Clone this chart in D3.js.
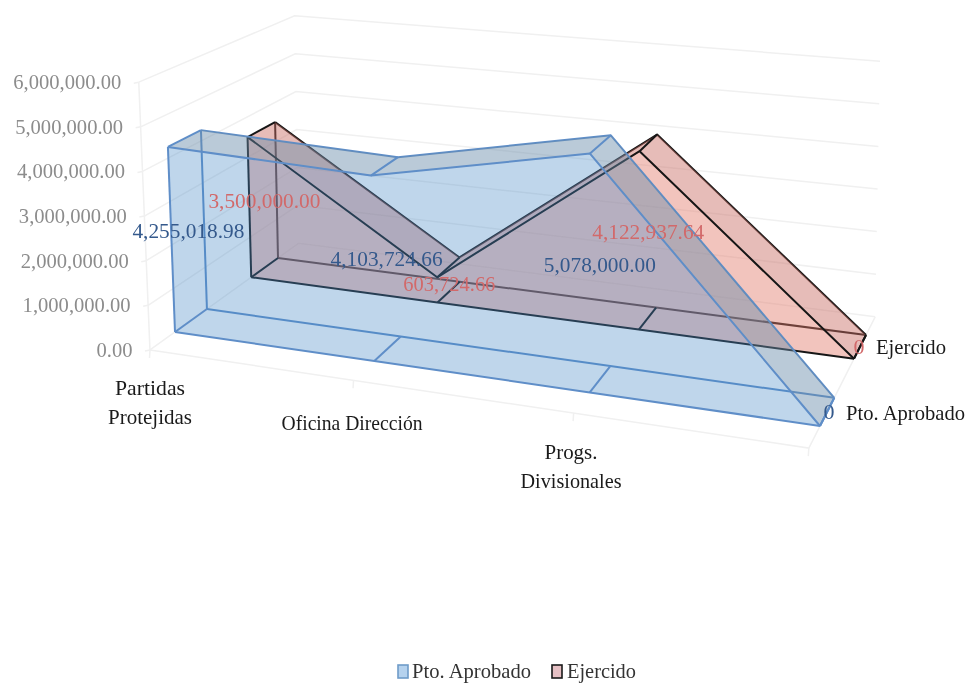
<!DOCTYPE html>
<html><head><meta charset="utf-8">
<script src="https://cdnjs.cloudflare.com/ajax/libs/d3/7.8.5/d3.min.js"></script>
<style>html,body{margin:0;padding:0;background:#fff}svg{display:block;filter:blur(.5px)}text{font-family:"Liberation Serif",serif}</style>
</head><body><svg id="c" width="967" height="684"></svg>
<script>
// ---- data ----
const categories = [["Partidas","Protejidas"],["Oficina Dirección"],["Progs.","Divisionales"],[""]];
const seriesNames = ["Pto. Aprobado","Ejercido"];
const ptoAprobado = [4255018.98,4103724.66,5078000.00,0];
const ejercido = [3500000.00,603724.66,4122937.64,0];
const valueTicks = [0,1000000,2000000,3000000,4000000,5000000,6000000];
const fmt = d3.format(",.2f");

// ---- layout: a box in perspective, addressed by category, value and depth ----
const uScale = d3.scaleLinear().domain([0,1,2,3]).range([0,.309,.643,1]);
const vScale = d3.scaleLinear().domain([0,6000000]).range([0,1]);
const zScale = d3.scaleLinear().domain([0,1,2,3]).range([0,.31,.74,1]);
const Z_FRONT=-.243, Z_BACK=1.2;
const box = {b00:[175,332],b10:[820,426],b01:[278,258],b11:[866,335],
             t00:[165,71],t10:[826,132],t01:[273,25],t11:[871,73]};
const lerp=(a,b,k)=>[a[0]+(b[0]-a[0])*k,a[1]+(b[1]-a[1])*k];
function project(u,w,z){
  const bot=lerp(lerp(box.b00,box.b10,u),lerp(box.b01,box.b11,u),z);
  const top=lerp(lerp(box.t00,box.t10,u),lerp(box.t01,box.t11,u),z);
  return lerp(bot,top,w);
}
const P=(t,v,d)=>project(uScale(t),vScale(v),zScale(d));
const line=d3.line();
const svg=d3.select("#c");

// ---- walls and floor ----
const grid=svg.append("g").attr("fill","none").attr("stroke","#f0f0f0").attr("stroke-width",1.5);
valueTicks.forEach(v=>{
  const w=vScale(v);
  grid.append("path").attr("d",line([project(0,w,Z_FRONT),project(0,w,Z_BACK),project(1,w,Z_BACK)]));
});
grid.append("path").attr("d",line([project(0,0,Z_FRONT),project(0,1,Z_FRONT)]));
grid.append("path").attr("d",line([project(0,0,Z_FRONT),project(1,0,Z_FRONT),project(1,0,Z_BACK)]));
[0,1,2,3].forEach(t=>{
  const p=project(uScale(t),0,Z_FRONT);
  grid.append("path").attr("d",line([p,[p[0]-.5,p[1]+8]]));
});
valueTicks.forEach(v=>{
  const p=project(0,vScale(v),Z_FRONT);
  grid.append("path").attr("d",line([p,[p[0]-5,p[1]+1]]));
});

// ---- 3D area series ----
function area3d(vals,df,db,o){
  const g=svg.append("g").attr("stroke-linejoin","round");
  const ts=d3.range(vals.length);
  const F=ts.map(t=>P(t,vals[t],df)), FB=ts.map(t=>P(t,0,df));
  const B=ts.map(t=>P(t,vals[t],db)), BB=ts.map(t=>P(t,0,db));
  const edge=(pts)=>g.append("path").attr("d",line(pts)).attr("fill","none").attr("stroke",o.stroke).attr("stroke-width",o.sw);
  const face=(pts,fill)=>g.append("path").attr("d",line(pts)+"Z").attr("fill",fill).attr("stroke","none");
  edge(B); edge(BB); edge([B[0],BB[0]]);
  for(let i=0;i<ts.length-1;i++) face([F[i],F[i+1],B[i+1],B[i]],o.strip);
  face(F.concat(FB.slice().reverse()),o.front);
  edge(F); edge(FB);
  edge([F[0],FB[0]]);
  ts.forEach(i=>{ edge([F[i],B[i]]); edge([FB[i],BB[i]]); });
}
area3d(ejercido,2,3,{stroke:"#161616",sw:2,strip:"rgba(200,110,100,.46)",front:"rgba(226,120,105,.44)"});
area3d(ptoAprobado,0,1,{stroke:"#5f8ec8",sw:2,strip:"rgba(105,140,170,.46)",front:"rgba(72,138,198,.35)"});

// ---- value axis labels ----
svg.append("g").selectAll("text").data(valueTicks).join("text")
  .attr("x",d=>project(0,vScale(d),Z_FRONT)[0]-17.5)
  .attr("y",d=>project(0,vScale(d),Z_FRONT)[1]+2)
  .attr("text-anchor","end").attr("dominant-baseline","middle")
  .attr("font-size",22).attr("fill","#8c8c8c")
  .attr("textLength",d=>d===0?36:108).attr("lengthAdjust","spacingAndGlyphs").text(fmt);

// ---- data labels ----
const blueLabelShift=[[17,-7],[14,-7],[10,-6],[9,-12]];
const redLabelShift=[[15,-4],[12,-4],[9,-6],[5,-10]];
function labels(vals,d,shift,color){
  svg.append("g").selectAll("text").data(vals).join("text")
    .attr("x",(v,i)=>P(i,v*.5,d)[0]+shift[i][0])
    .attr("y",(v,i)=>P(i,v*.5,d)[1]+shift[i][1])
    .attr("text-anchor","middle").attr("dominant-baseline","middle")
    .attr("font-size",22).attr("fill",color)
    .attr("textLength",v=>v===0?null:(v<1000000?92:112)).attr("lengthAdjust","spacingAndGlyphs")
    .text(v=>v===0?"0":fmt(v));
}
labels(ptoAprobado,0,blueLabelShift,"#34598c");
labels(ejercido,2,redLabelShift,"#d2696a");

// ---- category labels ----
const catPos=[[150,390],[352,425],[571,454]];
const catWidths=[[70,84],[141],[53,101]];
categories.slice(0,3).forEach((c,i)=>{
  c.forEach((s,j)=>svg.append("text").attr("x",catPos[i][0]).attr("y",catPos[i][1]+j*29.5)
   .attr("text-anchor","middle").attr("dominant-baseline","middle")
   .attr("font-size",21).attr("fill","#1a1a1a").attr("textLength",catWidths[i][j])
   .attr("lengthAdjust","spacingAndGlyphs").text(s));
});

// ---- series labels (depth axis) ----
[[846,415,119],[876,349,70]].forEach((p,i)=>{
  svg.append("text").attr("x",p[0]).attr("y",p[1]).attr("dominant-baseline","middle")
   .attr("font-size",21).attr("fill","#1a1a1a").attr("textLength",p[2])
   .attr("lengthAdjust","spacingAndGlyphs").text(seriesNames[i]);
});

// ---- legend ----
const legendStyle=[{x:398,tx:412,w:119,fill:"#b5d2ee",stroke:"#6f9cc9"},{x:552,tx:567,w:69,fill:"#e6c0c4",stroke:"#1a1a1a"}];
legendStyle.forEach((l,i)=>{
  svg.append("rect").attr("x",l.x).attr("y",665).attr("width",10).attr("height",13)
    .attr("fill",l.fill).attr("stroke",l.stroke).attr("stroke-width",1.6);
  svg.append("text").attr("x",l.tx).attr("y",673).attr("dominant-baseline","middle")
   .attr("font-size",21).attr("fill","#333").attr("textLength",l.w)
   .attr("lengthAdjust","spacingAndGlyphs").text(seriesNames[i]);
});
</script></body></html>
